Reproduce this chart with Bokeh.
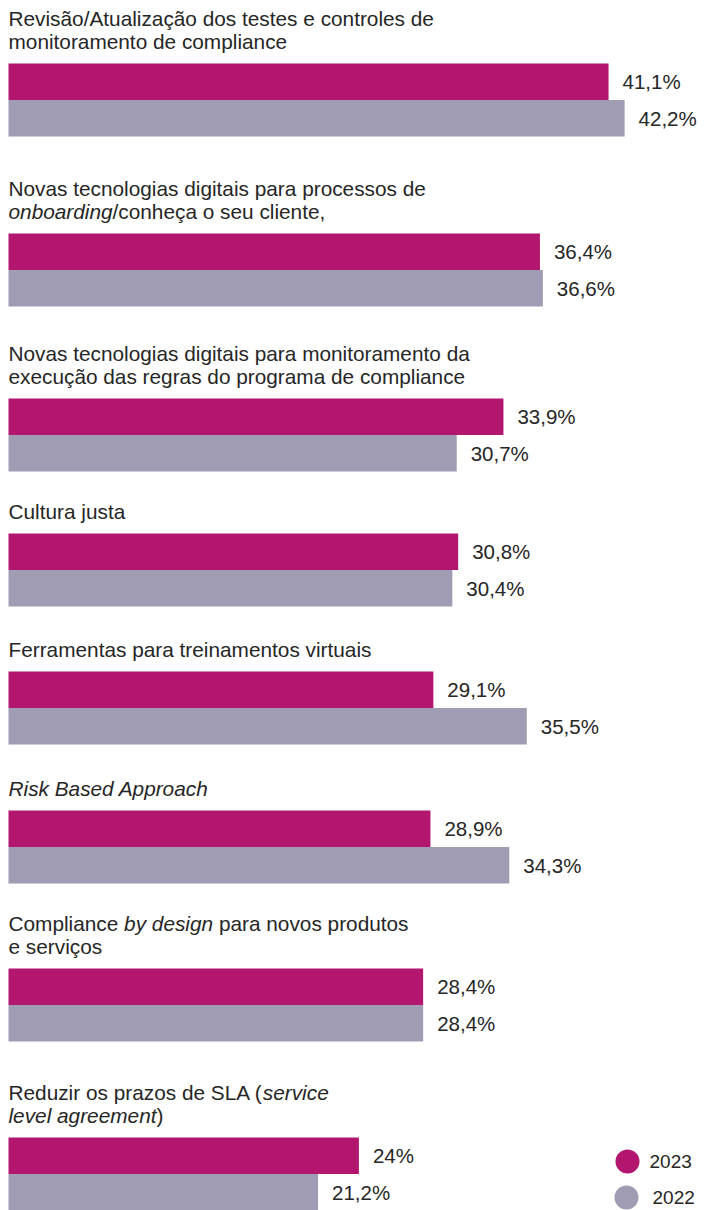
from bokeh.plotting import figure
from bokeh.models import Range1d, ColumnDataSource
from bokeh.core.properties import value
from bokeh.embed import file_html
from bokeh.resources import INLINE

# ---------------- data ----------------
categories = [
    [[("Revisão/Atualização dos testes e controles de", False)],
     [("monitoramento de compliance", False)]],
    [[("Novas tecnologias digitais para processos de", False)],
     [("onboarding", True), ("/conheça o seu cliente,", False)]],
    [[("Novas tecnologias digitais para monitoramento da", False)],
     [("execução das regras do programa de compliance", False)]],
    [[("Cultura justa", False)]],
    [[("Ferramentas para treinamentos virtuais", False)]],
    [[("Risk Based Approach", True)]],
    [[("Compliance ", False), ("by design", True), (" para novos produtos", False)],
     [("e serviços", False)]],
    [[("Reduzir os prazos de SLA (", False), ("service", True)],
     [("level agreement", True), (")", False)]],
]
values_2023 = [41.1, 36.4, 33.9, 30.8, 29.1, 28.9, 28.4, 24.0]
values_2022 = [42.2, 36.6, 30.7, 30.4, 35.5, 34.3, 28.4, 21.2]
labels_2023 = ["41,1%", "36,4%", "33,9%", "30,8%", "29,1%", "28,9%", "28,4%", "24%"]
labels_2022 = ["42,2%", "36,6%", "30,7%", "30,4%", "35,5%", "34,3%", "28,4%", "21,2%"]
series_names = ["2023", "2022"]

# ---------------- style / layout ----------------
C2023 = "#B2166F"
C2022 = "#9F9CB3"
TXT = "#262626"
FONT = "Liberation Sans"
FS = 20.8
FSV = 20.5
PX = 14.6          # pixels per percentage point
W, H = 716, 1210
X0 = 8             # left edge of bars (px)
bar_tops = [63, 233, 398, 533, 671, 810, 968, 1137]
BAR_H = 36.5
LINE_H = 23
GAP = 22

# Arial / Liberation Sans advance widths (em)
AW = {' ': .278, 'C': .722, 'o': .556, 'm': .833, 'p': .556, 'l': .222, 'i': .222,
      'a': .556, 'n': .556, 'c': .5, 'e': .556, 'R': .722, 'd': .556, 'u': .556,
      'z': .5, 'r': .333, 's': .5, 'S': .667, 'L': .556, 'A': .667, '(': .333,
      'b': .556, 'g': .556, 'v': .5, 't': .278, 'y': .5, ')': .333, 'h': .556}


def text_w(s):
    return sum(AW.get(ch, .556) for ch in s) * FS


p = figure(width=W, height=H, x_range=Range1d(-X0 / PX, (W - X0) / PX), y_range=Range1d(H, 0),
           output_backend="svg", toolbar_location=None, min_border=0,
           min_border_left=0, min_border_right=0, min_border_top=0, min_border_bottom=0)
p.axis.visible = False
p.grid.visible = False
p.outline_line_color = None
p.background_fill_color = "white"
p.border_fill_color = "white"

# bars
y23 = [t + BAR_H / 2 for t in bar_tops]
y22 = [t + BAR_H * 1.5 for t in bar_tops]
p.hbar(y=y23, left=0, right=values_2023, height=BAR_H, color=C2023, line_color=None)
p.hbar(y=y22, left=0, right=values_2022, height=BAR_H, color=C2022, line_color=None)

# value labels
p.text(x=values_2023, y=y23, text=labels_2023, x_offset=14, text_baseline="middle",
       text_font=value(FONT), text_font_size=f"{FSV}px", text_color=TXT)
p.text(x=values_2022, y=y22, text=labels_2022, x_offset=14, text_baseline="middle",
       text_font=value(FONT), text_font_size=f"{FSV}px", text_color=TXT)

# category labels (with italic segments)
seg = {False: dict(x=[], y=[], text=[], xo=[]), True: dict(x=[], y=[], text=[], xo=[])}
for lines, top in zip(categories, bar_tops):
    n = len(lines)
    for i, line in enumerate(lines):
        base = top - GAP - LINE_H * (n - 1 - i)
        off = 0.0
        for s, it in line:
            lead = len(s) - len(s.lstrip(" "))
            off += text_w(" " * lead)
            core = s.strip(" ")
            d = seg[it]
            d["x"].append(0)
            d["y"].append(base)
            d["text"].append(core)
            d["xo"].append(off)
            off += text_w(core) + text_w(" " * (len(s) - lead - len(core)))
for it, d in seg.items():
    src = ColumnDataSource(d)
    p.text(x="x", y="y", text="text", x_offset="xo", source=src, text_baseline="alphabetic",
           text_font=value(FONT), text_font_size=f"{FS}px", text_color=TXT,
           text_font_style="italic" if it else "normal")

# legend
lx = [(627 - X0) / PX, (626 - X0) / PX]
ly = [1161, 1197]
p.scatter(x=lx, y=ly, size=24, color=[C2023, C2022], line_color=None)
p.text(x=lx, y=ly, text=series_names, x_offset=[22, 26], text_baseline="middle",
       text_font=value(FONT), text_font_size="19px", text_color=TXT)

open("out.html", "w").write(file_html(p, INLINE))
